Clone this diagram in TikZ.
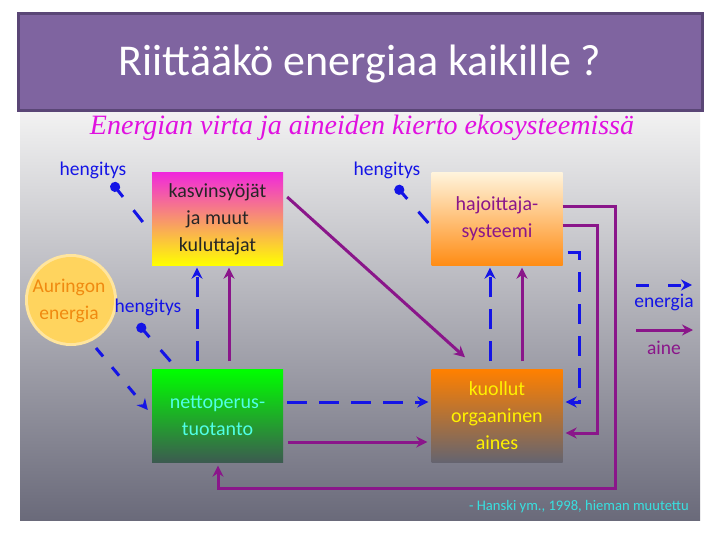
\documentclass[tikz,border=0pt]{standalone}
\usepackage{fontspec}
\setmainfont{Carlito}
\newfontfamily\scriptf{Liberation Serif}
\usetikzlibrary{arrows.meta,calc}
\definecolor{titlebg}{HTML}{7F64A0}
\definecolor{titlebd}{HTML}{5A4676}
\definecolor{myblue}{HTML}{1414E6}
\definecolor{mypurple}{HTML}{8A168A}
\definecolor{submag}{HTML}{E010E0}
\definecolor{citecyan}{HTML}{38E0E0}
\definecolor{sunfill}{HTML}{FFD45E}
\definecolor{suntext}{HTML}{F08A10}
\tikzset{
  box/.style={minimum width=131pt, minimum height=93pt, inner sep=0pt, align=center,
    font=\fontsize{20}{27}\selectfont},
  lbl/.style={font=\fontsize{19.5}{22}\selectfont, inner sep=0pt},
  en/.style={draw=myblue, line width=3pt, dash pattern=on 20pt off 12pt,
    -{Stealth[length=11pt,width=11pt]}},
  ai/.style={draw=mypurple, line width=3pt, line join=miter,
    -{Stealth[length=11pt,width=11pt]}},
  resp/.style={draw=myblue, line width=3pt, dash pattern=on 15pt off 17pt,
    -{Circle[length=10pt]}},
}
\begin{document}
\begin{tikzpicture}[x=1pt,y=-1pt]
\useasboundingbox (0,0) rectangle (720,540);
\fill[white] (0,0) rectangle (720,540);
% picture background
\shade[top color={rgb,255:red,242;green,242;blue,242}, middle color={rgb,255:red,188;green,188;blue,196},
  bottom color={rgb,255:red,106;green,106;blue,122}] (20,112) rectangle (700,520);
% title
\draw[line width=3pt, draw=titlebd, fill=titlebg] (18,14) rectangle (702,111);
\node[text=white, font=\fontsize{44}{50}\selectfont] (title) at (360,64) {Riittääkö energiaa kaikille ?};
% subtitle
\node[text=submag, font=\scriptf\itshape\fontsize{28}{30}\selectfont] (sub) at (362,128)
  {Energian virta ja aineiden kierto ekosysteemissä};
% sun
\fill[sunfill!60] (71,300) circle (46);
\fill[sunfill] (71,300) circle (43);
\node[text=suntext, align=center, font=\fontsize{19.5}{27}\selectfont] (sun) at (69,301) {Auringon\\energia};
% boxes
\node[box, top color={rgb,255:red,240;green,40;blue,220}, middle color={rgb,255:red,255;green,130;blue,120},
  bottom color={rgb,255:red,255;green,255;blue,0}, text=black!85] (kas) at (217.5,219)
  {kasvinsyöjät\\ja muut\\kuluttajat};
\node[box, top color={rgb,255:red,255;green,244;blue,220}, bottom color={rgb,255:red,255;green,140;blue,20},
  text=mypurple] (haj) at (497,219) {hajoittaja-\\systeemi};
\node[box, top color={rgb,255:red,0;green,255;blue,0}, middle color={rgb,255:red,40;green,170;blue,60},
  bottom color={rgb,255:red,60;green,90;blue,80}, text={rgb,255:red,80;green,255;blue,230}] (net) at (217.5,416)
  {nettoperus-\\tuotanto};
\node[box, top color={rgb,255:red,255;green,128;blue,0}, middle color={rgb,255:red,200;green,110;blue,30},
  bottom color={rgb,255:red,100;green,100;blue,112}, text=yellow] (kuo) at (497,416)
  {kuollut\\orgaaninen\\aines};
% respiration labels
\node[lbl, text=myblue] (h1) at (93,170) {hengitys};
\node[lbl, text=myblue] (h2) at (387,170) {hengitys};
\node[lbl, text=myblue] (h3) at (148,307) {hengitys};
\coordinate (b1) at (112,183);
\coordinate (b2) at (396,186);
\coordinate (b3) at (138,324);
\draw[resp] ([shift={(-9,3)}]kas.west) -- (b1);
\draw[resp] ([shift={(-3,4)}]haj.west) -- (b2);
\draw[resp] ([shift={(-47,-8)}]net.north) -- (b3);
% sun to production
\draw[en, dash pattern=on 11pt off 14pt] ([shift={(27,47)}]sun.center) -- ([shift={(-4,-6)}]net.west);
% energy flows (blue dashed)
\draw[en] ([shift={(-20.5,-8)}]net.north) -- ([shift={(-20.5,2)}]kas.south);
\draw[en] ([shift={(-7,-8)}]kuo.north) -- ([shift={(-7,2)}]haj.south);
\draw[en] ([shift={(4,-14)}]net.east) -- ([shift={(-3,-14)}]kuo.west);
\draw[en, line join=miter] ([shift={(5,33)}]haj.east) -- ++(12,0) |- ([shift={(3,-14)}]kuo.east);
% matter flows (purple)
\draw[ai] ([shift={(11.5,-8)}]net.north) -- ([shift={(11.5,2)}]kas.south);
\draw[ai] ([shift={(25,-8)}]kuo.north) -- ([shift={(25,2)}]haj.south);
\draw[ai] ([shift={(4,-22)}]kas.east) -- ([shift={(-32,-12)}]kuo.north);
\draw[ai] ([shift={(5,26)}]net.east) -- ([shift={(-4,26)}]kuo.west);
\draw[ai] ([shift={(0,7)}]haj.east) -- ++(35,0) |- ([shift={(3,17)}]kuo.east);
\draw[ai] ([shift={(0,-12)}]haj.east) -- ++(53,0) -- ++(0,281) -| ([shift={(0.5,3)}]net.south);
% legend
\coordinate (le1) at (636,285);
\coordinate (le2) at (692,285);
\coordinate (la1) at (636,330);
\coordinate (la2) at (693,330);
\draw[en, dash pattern=on 13pt off 19pt] (le1) -- (le2);
\draw[ai] (la1) -- (la2);
\node[lbl, text=myblue] (leg1) at (664,302) {energia};
\node[lbl, text=mypurple] (leg2) at (664,348) {aine};
% citation
\node[text=citecyan, font=\fontsize{14.6}{16}\selectfont, inner sep=0pt] (cite) at (579,507)
  {- Hanski ym., 1998, hieman muutettu};
\end{tikzpicture}
\end{document}
